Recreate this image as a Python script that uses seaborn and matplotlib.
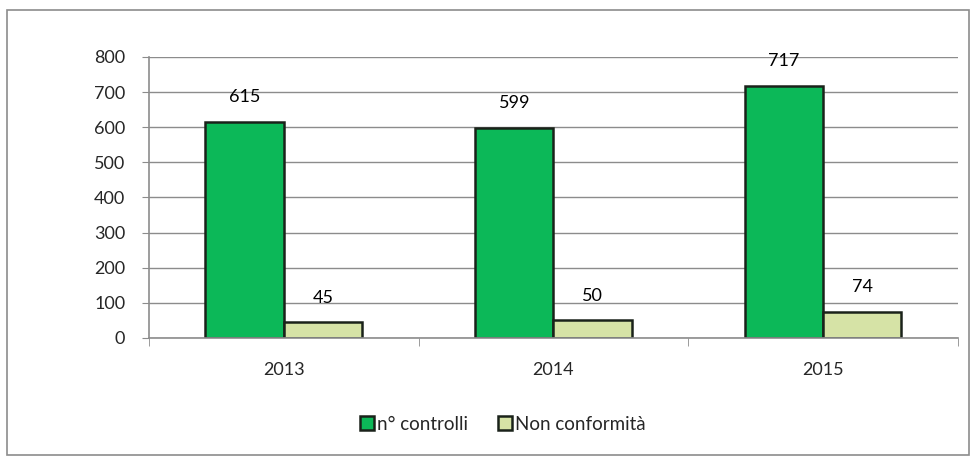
import matplotlib
matplotlib.use("Agg")
import matplotlib.pyplot as plt
from matplotlib.patches import Rectangle
import seaborn as sns
import pandas as pd

years = ["2013", "2014", "2015"]
controlli = [615, 599, 717]
non_conformita = [45, 50, 74]
series_names = ["n° controlli", "Non conformità"]

df = pd.DataFrame({
    "anno": years * 2,
    "valore": controlli + non_conformita,
    "serie": [series_names[0]] * 3 + [series_names[1]] * 3,
})

sns.set_style("white")
plt.rcParams["font.family"] = ["Lato", "DejaVu Sans"]

fig = plt.figure(figsize=(9.79, 4.57), dpi=100)
ax = fig.add_axes([0.152, 0.2604, 0.8265, 0.6149])

palette = {series_names[0]: "#0cb858", series_names[1]: "#d6e3a6"}
sns.barplot(data=df, x="anno", y="valore", hue="serie", palette=palette,
            width=0.58, edgecolor="#1a221a", linewidth=1.8, saturation=1,
            ax=ax, legend=True)

for cont in ax.containers:
    ax.bar_label(cont, padding=12, fontsize=13, color="#000000")

ax.set_ylim(0, 800)
ax.set_yticks(range(0, 801, 100))
ax.set_xlim(-0.5, 2.5)
ax.yaxis.grid(True, color="#8c8c8c", linewidth=1)
ax.set_axisbelow(True)
ax.set_xlabel("")
ax.set_ylabel("")

for s in ["top", "right"]:
    ax.spines[s].set_visible(False)
for s in ["left", "bottom"]:
    ax.spines[s].set_color("#8c8c8c")
    ax.spines[s].set_linewidth(1.2)

ax.tick_params(axis="y", left=True, length=5, color="#8c8c8c", labelsize=13, pad=12)
ax.tick_params(axis="x", which="major", bottom=False, labelsize=13, pad=14)
ax.set_xticks([-0.5, 0.5, 1.5, 2.5], minor=True)
ax.tick_params(axis="x", which="minor", bottom=True, length=6, color="#8c8c8c")

leg = ax.legend(loc="center", bbox_to_anchor=(503 / 979, 1 - 424 / 457), bbox_transform=fig.transFigure,
                ncol=2, frameon=False, fontsize=13.5, handlelength=0.75, handleheight=0.75,
                handletextpad=0.15, columnspacing=1.6)

fig.patches.append(Rectangle((7 / 979, 2 / 457), 962 / 979, 445 / 457, transform=fig.transFigure,
                             fill=False, edgecolor="#8c8c8c", linewidth=1.2))

fig.savefig("out.png", dpi=100)
